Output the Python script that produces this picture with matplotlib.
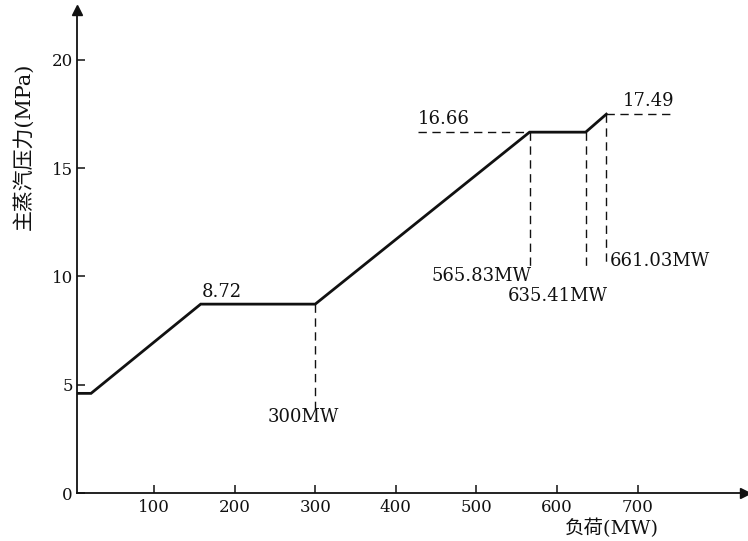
import matplotlib
matplotlib.use("Agg")
import matplotlib.pyplot as plt

plt.rcParams['font.family'] = ['DejaVu Serif', 'Noto Sans CJK SC']

# Sliding-pressure curve: load (MW) vs main steam pressure (MPa)
load_mw = [0, 22, 158, 300, 565.83, 635.41, 661.03]
pressure_mpa = [4.6, 4.6, 8.72, 8.72, 16.66, 16.66, 17.49]

x_ticks = [100, 200, 300, 400, 500, 600, 700]
y_ticks = [0, 5, 10, 15, 20]

x_title = '负荷(MW)'
y_title = '主蒸汽压力(MPa)'

ink = '#111111'

fig = plt.figure(figsize=(7.48, 5.41), dpi=100)
ax = fig.add_axes([77 / 748, 48 / 541, (745 - 77) / 748, (493 - 10) / 541])
ax.set_xlim(4.6, 833)
ax.set_ylim(0, 22.3)

for side in ('top', 'right'):
    ax.spines[side].set_visible(False)
for side in ('left', 'bottom'):
    ax.spines[side].set_linewidth(1.3)
    ax.spines[side].set_color(ink)

ax.set_xticks(x_ticks)
ax.set_yticks(y_ticks)
ax.tick_params(axis='both', direction='in', length=6, width=1.1, colors=ink,
               labelsize=12)
ax.tick_params(axis='x', pad=4)
ax.tick_params(axis='y', pad=3)

# axis arrows
ax.plot([0], [1], marker='^', ms=7, color=ink, transform=ax.transAxes,
        clip_on=False)
ax.plot([1], [0], marker='>', ms=7, color=ink, transform=ax.transAxes,
        clip_on=False)

# main curve
ax.plot(load_mw, pressure_mpa, color=ink, lw=2.0, solid_joinstyle='miter',
        zorder=3)

dash = dict(color=ink, lw=1.0, linestyle=(0, (6, 4)))

# reference lines at the break points
ax.plot([load_mw[3], load_mw[3]], [pressure_mpa[3], 3.9], **dash)
ax.plot([load_mw[4], load_mw[4]], [pressure_mpa[4], 10.45], **dash)
ax.plot([load_mw[5], load_mw[5]], [pressure_mpa[5], 10.5], **dash)
ax.plot([load_mw[6], load_mw[6]], [pressure_mpa[6], 10.5], **dash)
ax.plot([427, load_mw[4]], [pressure_mpa[4], pressure_mpa[4]], **dash)
ax.plot([load_mw[6], 742], [pressure_mpa[6], pressure_mpa[6]], **dash)

fs = 13
ax.annotate(f'{pressure_mpa[2]:.2f}', (load_mw[2], pressure_mpa[2]),
            xytext=(1, 2), textcoords='offset points', ha='left',
            va='bottom', fontsize=fs, color=ink)
ax.annotate(f'{pressure_mpa[4]:.2f}', (427, pressure_mpa[4]),
            xytext=(0, 3), textcoords='offset points', ha='left',
            va='bottom', fontsize=fs, color=ink)
ax.annotate(f'{pressure_mpa[6]:.2f}', (681, pressure_mpa[6]),
            xytext=(0, 3), textcoords='offset points', ha='left',
            va='bottom', fontsize=fs, color=ink)

ax.text(285, 3.5, f'{load_mw[3]:.0f}MW', ha='center', va='center',
        fontsize=fs, color=ink)
ax.text(568, 10.0, f'{load_mw[4]:.2f}MW', ha='right', va='center',
        fontsize=fs, color=ink)
ax.text(601, 9.1, f'{load_mw[5]:.2f}MW', ha='center', va='center',
        fontsize=fs, color=ink)
ax.text(665, 10.7, f'{load_mw[6]:.2f}MW', ha='left', va='center',
        fontsize=fs, color=ink)

# axis titles
ax.text(668, -1.65, x_title, ha='center', va='center', fontsize=14,
        color=ink, clip_on=False)
ax.text(-62, 16.0, y_title, ha='center', va='center', rotation=90,
        fontsize=15, color=ink, clip_on=False)

fig.savefig('out.png', dpi=100)
